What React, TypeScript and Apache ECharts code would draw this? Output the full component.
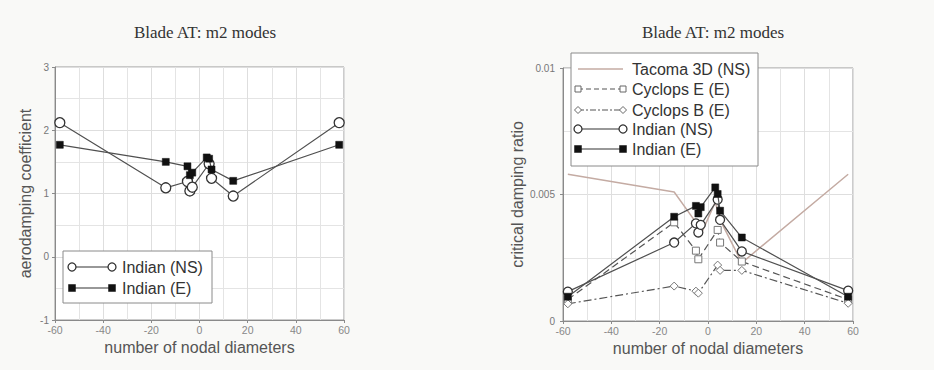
import React, { useEffect, useRef } from "react";
import * as echarts from "echarts";

// ---------- data ----------
const titleText = "Blade AT: m2 modes";
const xAxisName = "number of nodal diameters";

// Left chart: aerodamping coefficient
const ndLeftNS = [-58, -14, -5, -4, -3, 4, 5, 14, 58];
const aeroNS = [2.12, 1.09, 1.19, 1.04, 1.1, 1.47, 1.24, 0.96, 2.12];
const ndLeftE = [-58, -14, -5, -4, -3, 3, 4, 5, 14, 58];
const aeroE = [1.77, 1.5, 1.43, 1.29, 1.33, 1.57, 1.55, 1.38, 1.2, 1.77];

// Right chart: critical damping ratio
const ndTacoma = [-58, -14, -5, -3, 3, 5, 14, 58];
const cdrTacoma = [0.0058, 0.0051, 0.0039, 0.0034, 0.0047, 0.004, 0.0023, 0.0058];
const ndCycE = [-58, -14, -5, -4, 4, 5, 14, 58];
const cdrCycE = [0.00085, 0.0039, 0.00278, 0.00244, 0.0036, 0.0031, 0.00235, 0.00085];
const ndCycB = [-58, -14, -5, -4, 4, 5, 14, 58];
const cdrCycB = [0.00068, 0.00138, 0.00118, 0.0011, 0.00221, 0.002, 0.002, 0.0007];
const ndRightNS = [-58, -14, -5, -4, -3, 4, 5, 14, 58];
const cdrNS = [0.00116, 0.0031, 0.00386, 0.0035, 0.0038, 0.0048, 0.004, 0.00275, 0.0012];
const ndRightE = [-58, -14, -5, -4, -3, 3, 4, 5, 14, 58];
const cdrE = [0.00096, 0.00412, 0.00455, 0.00425, 0.0045, 0.00528, 0.00502, 0.00436, 0.0033, 0.00096];

const leftLegend = ["Indian (NS)", "Indian (E)"];
const rightLegend = ["Tacoma 3D (NS)", "Cyclops E (E)", "Cyclops B (E)", "Indian (NS)", "Indian (E)"];

const pairs = (xs: number[], ys: number[]) => xs.map((x, i) => [x, ys[i]]);

const SANS = "Liberation Sans, Arial, sans-serif";
const SERIF = "Liberation Serif, Times New Roman, serif";
const LINE = "#505050";
const TACOMA = "#c4aba3";

function xAxisCfg(gridIndex: number) {
  return {
    type: "value",
    gridIndex,
    min: -60,
    max: 60,
    interval: 20,
    name: xAxisName,
    nameLocation: "middle",
    nameGap: 14,
    nameTextStyle: { fontFamily: SANS, fontSize: 16, color: "#555" },
    axisLine: { show: true, onZero: false, lineStyle: { color: "#8a8a8a" } },
    axisTick: { show: true, length: 3, lineStyle: { color: "#8a8a8a" } },
    axisLabel: { fontFamily: SANS, fontSize: 10.5, color: "#888", margin: 4 },
    splitLine: { show: true, lineStyle: { color: "#dedede" } },
    minorTick: { show: false, splitNumber: 2 },
    minorSplitLine: { show: true, lineStyle: { color: "#e4e4e4" } },
  };
}

function legendGraphic(
  x: number,
  y: number,
  w: number,
  h: number,
  rows: { text: string; y: number; kind: string; dash?: number[] | null; color: string }[],
  lineX0: number,
  lineX1: number,
  textX: number
) {
  const Z = 100;
  const children: any[] = [
    {
      type: "rect",
      z: Z,
      shape: { x, y, width: w, height: h },
      style: { fill: "#fff", stroke: "#8a8a8a", lineWidth: 1 },
    },
  ];
  rows.forEach((r) => {
    children.push({
      type: "line",
      z: Z + 1,
      shape: { x1: lineX0, y1: r.y, x2: lineX1, y2: r.y },
      style: { stroke: r.color, lineWidth: r.kind === "none" ? 1.5 : 1.2, lineDash: r.dash || null },
    });
    [lineX0, lineX1].forEach((cx) => {
      if (r.kind === "circle") {
        children.push({
          type: "circle",
          z: Z + 2,
          shape: { cx, cy: r.y, r: 4 },
          style: { fill: "#fff", stroke: "#333", lineWidth: 1.3 },
        });
      } else if (r.kind === "square") {
        children.push({
          type: "rect",
          z: Z + 2,
          shape: { x: cx - 3.5, y: r.y - 3.5, width: 7, height: 7 },
          style: { fill: "#111", stroke: "#111", lineWidth: 0.5 },
        });
      } else if (r.kind === "osquare") {
        children.push({
          type: "rect",
          z: Z + 2,
          shape: { x: cx - 3, y: r.y - 3, width: 6, height: 6 },
          style: { fill: "#fff", stroke: "#666", lineWidth: 1 },
        });
      } else if (r.kind === "diamond") {
        children.push({
          type: "polygon",
          z: Z + 2,
          shape: { points: [[cx, r.y - 3.5], [cx + 3.5, r.y], [cx, r.y + 3.5], [cx - 3.5, r.y]] },
          style: { fill: "#fff", stroke: "#666", lineWidth: 1 },
        });
      }
    });
    children.push({
      type: "text",
      z: Z + 2,
      x: textX,
      y: r.y,
      style: {
        text: r.text,
        fontFamily: SANS,
        fontSize: 16,
        fill: "#333",
        verticalAlign: "middle",
        textAlign: "left",
      },
    });
  });
  return { type: "group", children };
}

export default function App() {
  const ref = useRef<HTMLDivElement>(null);

  useEffect(() => {
    if (!ref.current) return;
    const chart = echarts.init(ref.current, null, { renderer: "svg" });

    const openCircle = (size: number) => ({
      symbol: "circle",
      symbolSize: size,
      itemStyle: { color: "#fff", borderColor: "#333", borderWidth: 1.3 },
    });
    const filledSquare = (size: number) => ({
      symbol: "rect",
      symbolSize: size,
      itemStyle: { color: "#111", borderColor: "#111", borderWidth: 0.5 },
    });

    const yBase = {
      type: "value",
      nameLocation: "middle",
      nameTextStyle: { fontFamily: SANS, fontSize: 16, color: "#555" },
      axisLine: { show: true, onZero: false, lineStyle: { color: "#8a8a8a" } },
      axisTick: { show: true, length: 3, lineStyle: { color: "#8a8a8a" } },
      splitLine: { show: true, lineStyle: { color: "#dedede" } },
      minorTick: { show: false, splitNumber: 2 },
      minorSplitLine: { show: true, lineStyle: { color: "#e4e4e4" } },
    };

    const option: any = {
      animation: false,
      backgroundColor: "#f9f9f7",
      title: [
        {
          text: titleText,
          left: 200,
          top: 19,
          textAlign: "center",
          textStyle: { fontFamily: SERIF, fontSize: 17, fontWeight: "normal", color: "#333" },
        },
        {
          text: titleText,
          left: 708,
          top: 19,
          textAlign: "center",
          textStyle: { fontFamily: SERIF, fontSize: 17, fontWeight: "normal", color: "#333" },
        },
      ],
      grid: [
        { left: 55, top: 67, width: 289, height: 253, show: true, backgroundColor: "#fff", borderColor: "#999", borderWidth: 1 },
        { left: 563, top: 68, width: 290, height: 253, show: true, backgroundColor: "#fff", borderColor: "#999", borderWidth: 1 },
      ],
      xAxis: [xAxisCfg(0), xAxisCfg(1)],
      yAxis: [
        {
          ...yBase,
          gridIndex: 0,
          min: -1,
          max: 3,
          interval: 1,
          name: "aerodamping coefficient",
          nameGap: 22,
          axisLabel: { fontFamily: SANS, fontSize: 10, color: "#777", margin: 6 },
        },
        {
          ...yBase,
          gridIndex: 1,
          min: 0,
          max: 0.01,
          interval: 0.005,
          name: "critical damping ratio",
          nameGap: 38,
          axisLabel: { fontFamily: SANS, fontSize: 10, color: "#777", margin: 8 },
        },
      ],
      series: [
        {
          name: "Indian (NS)",
          type: "line",
          xAxisIndex: 0,
          yAxisIndex: 0,
          data: pairs(ndLeftNS, aeroNS),
          ...openCircle(10),
          lineStyle: { color: LINE, width: 1.2 },
          z: 3,
        },
        {
          name: "Indian (E)",
          type: "line",
          xAxisIndex: 0,
          yAxisIndex: 0,
          data: pairs(ndLeftE, aeroE),
          ...filledSquare(7),
          lineStyle: { color: LINE, width: 1.2 },
          z: 4,
        },
        {
          name: "Tacoma 3D (NS)",
          type: "line",
          xAxisIndex: 1,
          yAxisIndex: 1,
          data: pairs(ndTacoma, cdrTacoma),
          showSymbol: false,
          symbol: "none",
          lineStyle: { color: TACOMA, width: 1.5 },
          z: 2,
        },
        {
          name: "Cyclops E (E)",
          type: "line",
          xAxisIndex: 1,
          yAxisIndex: 1,
          data: pairs(ndCycE, cdrCycE),
          symbol: "rect",
          symbolSize: 7,
          itemStyle: { color: "#fff", borderColor: "#777", borderWidth: 1 },
          lineStyle: { color: "#555", width: 1.2, type: [7, 4] },
          z: 3,
        },
        {
          name: "Cyclops B (E)",
          type: "line",
          xAxisIndex: 1,
          yAxisIndex: 1,
          data: pairs(ndCycB, cdrCycB),
          symbol: "diamond",
          symbolSize: 8,
          itemStyle: { color: "#fff", borderColor: "#777", borderWidth: 1 },
          lineStyle: { color: "#555", width: 1.2, type: [8, 3, 2, 3] },
          z: 3,
        },
        {
          name: "Indian (NS) ",
          type: "line",
          xAxisIndex: 1,
          yAxisIndex: 1,
          data: pairs(ndRightNS, cdrNS),
          ...openCircle(9),
          lineStyle: { color: LINE, width: 1.2 },
          z: 4,
        },
        {
          name: "Indian (E) ",
          type: "line",
          xAxisIndex: 1,
          yAxisIndex: 1,
          data: pairs(ndRightE, cdrE),
          ...filledSquare(7),
          lineStyle: { color: LINE, width: 1.2 },
          z: 5,
        },
      ],
      graphic: [
        legendGraphic(
          63,
          251,
          149,
          52,
          [
            { text: leftLegend[0], y: 267, kind: "circle", color: "#333" },
            { text: leftLegend[1], y: 288, kind: "square", color: "#333" },
          ],
          72,
          112,
          122
        ),
        legendGraphic(
          571,
          53,
          187,
          113,
          [
            { text: rightLegend[0], y: 69, kind: "none", color: TACOMA },
            { text: rightLegend[1], y: 89, kind: "osquare", dash: [5, 3], color: "#555" },
            { text: rightLegend[2], y: 110, kind: "diamond", dash: [6, 2, 2, 2], color: "#555" },
            { text: rightLegend[3], y: 129, kind: "circle", color: "#333" },
            { text: rightLegend[4], y: 149, kind: "square", color: "#333" },
          ],
          578,
          623,
          632
        ),
      ],
    };

    chart.setOption(option);
    return () => chart.dispose();
  }, []);

  return (
    <div
      ref={ref}
      style={{ position: "fixed", left: 0, top: 0, width: 934, height: 370 }}
    />
  );
}
